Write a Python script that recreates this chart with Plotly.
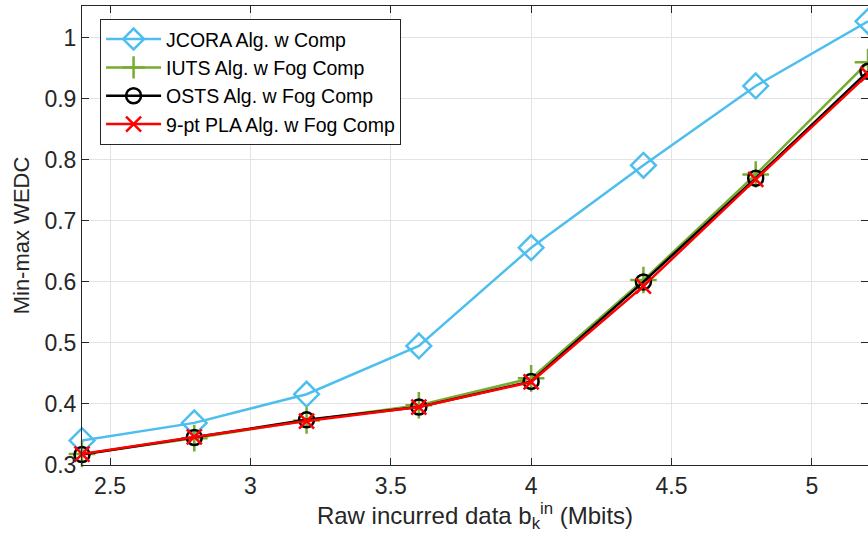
import plotly.graph_objects as go

x_vals = [2.4, 2.8, 3.2, 3.6, 4.0, 4.4, 4.8, 5.2]
jcora = [0.340, 0.369, 0.416, 0.495, 0.656, 0.791, 0.921, 1.027]
iuts = [0.318, 0.344, 0.373, 0.398, 0.442, 0.603, 0.776, 0.960]
osts = [0.317, 0.345, 0.374, 0.395, 0.437, 0.600, 0.770, 0.945]
pla = [0.318, 0.346, 0.372, 0.395, 0.436, 0.593, 0.768, 0.940]

series = [
    ("JCORA Alg. w Comp", jcora, "#4DBEEE", "diamond-open", 19),
    ("IUTS Alg. w Fog Comp", iuts, "#77AC30", "cross-thin-open", 19),
    ("OSTS Alg. w Fog Comp", osts, "#000000", "circle-open", 15),
    ("9-pt PLA Alg. w Fog Comp", pla, "#FF0000", "x-thin-open", 15),
]

fig = go.Figure()
for name, ys, col, sym, sz in series:
    fig.add_trace(go.Scatter(
        x=x_vals, y=ys, name=name, mode="lines+markers",
        line=dict(color=col, width=2.5),
        marker=dict(symbol=sym, size=sz, color=col, line=dict(color=col, width=2.5)),
        cliponaxis=False,
    ))

axcol = "#262626"
fig.update_layout(
    width=868, height=539,
    margin=dict(l=82, r=0, t=6, b=74),
    paper_bgcolor="white", plot_bgcolor="white",
    font=dict(family="Liberation Sans, Arial, sans-serif", color=axcol),
    showlegend=True,
    legend=dict(
        x=0.023, y=0.972, xanchor="left", yanchor="top",
        bgcolor="white", bordercolor=axcol, borderwidth=1,
        font=dict(size=19.5, color="#000000"),
        tracegroupgap=0, itemwidth=55,
    ),
)
fig.update_xaxes(
    range=[2.4, 5.2], tickvals=[2.5, 3, 3.5, 4, 4.5, 5],
    ticktext=["2.5", "3", "3.5", "4", "4.5", "5"],
    ticks="inside", ticklen=7, tickcolor=axcol, tickwidth=1,
    showline=True, linecolor=axcol, linewidth=1, mirror="ticks",
    showgrid=True, gridcolor="#E3E3E3", gridwidth=1, zeroline=False,
    tickfont=dict(size=23, color=axcol),
    title=dict(text="Raw incurred data b<sub>k</sub><sup>in</sup> (Mbits)",
               font=dict(size=24, color=axcol), standoff=4),
)
fig.update_yaxes(
    range=[0.3, 1.052], tickvals=[0.3, 0.4, 0.5, 0.6, 0.7, 0.8, 0.9, 1.0],
    ticktext=["0.3", "0.4", "0.5", "0.6", "0.7", "0.8", "0.9", "1"],
    ticks="inside", ticklen=7, tickcolor=axcol, tickwidth=1,
    showline=True, linecolor=axcol, linewidth=1, mirror="ticks",
    showgrid=True, gridcolor="#E3E3E3", gridwidth=1, zeroline=False,
    tickfont=dict(size=23, color=axcol),
    title=dict(text="Min-max WEDC", font=dict(size=22, color=axcol), standoff=8),
)
fig.write_html("out.html")
